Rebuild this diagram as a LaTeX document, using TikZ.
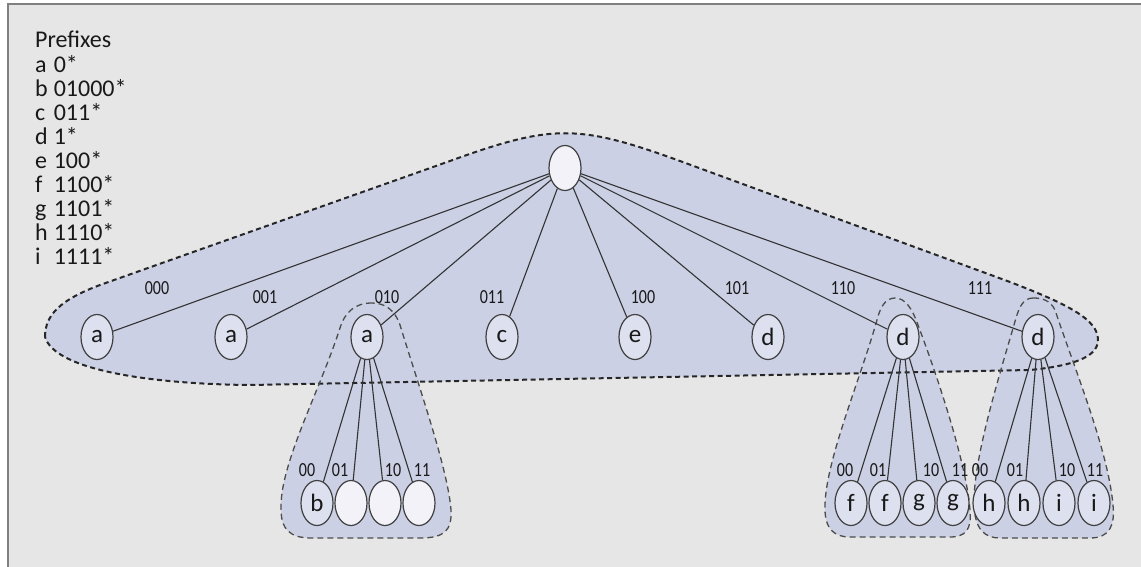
\documentclass[tikz,border=0pt]{standalone}
\usepackage{fontspec}
\setmainfont{Carlito}
\newfontfamily\labfont{Carlito}[FakeStretch=0.8]
\usetikzlibrary{shapes.geometric}
\definecolor{bg}{HTML}{E6E6E6}
\definecolor{blobfill}{HTML}{CBD0E4}
\definecolor{nodefill}{HTML}{DDE0EE}
\definecolor{emptyfill}{HTML}{F2F2F8}
\definecolor{framecol}{HTML}{808080}
\begin{document}
\begin{tikzpicture}[x=1pt,y=-1pt,
  every node/.style={inner sep=0pt,text=black!90},
  tnode/.style={ellipse,draw=black!75,line width=1.2pt,fill=nodefill,minimum width=32pt,minimum height=45pt,font=\fontsize{25}{27}\selectfont},
  enode/.style={tnode,fill=emptyfill},
  lab/.style={font=\labfont\fontsize{20}{22}\selectfont},
  link/.style={draw=black!80,line width=1.1pt},
  bigblob/.style={draw=black!85,line width=2pt,dash pattern=on 5pt off 3.5pt},
  smallblob/.style={draw=black!70,line width=1.3pt,dash pattern=on 6pt off 4pt}]
\useasboundingbox (0,0) rectangle (1141,567);
\clip (0,0) rectangle (1141,567);
\fill[white] (0,0) rectangle (1141,567);
\fill[bg] (8,4) rectangle (1141,567);
\draw[framecol,line width=1.5pt] (8,567) -- (8,4) -- (1141,4);

% blob shapes
\path[save path=\pbig] (45,337) .. controls (45,315) and (60,300) .. (100,285)
  -- (450,161) .. controls (552,124) and (578,124) .. (680,161)
  -- (1010,282) .. controls (1070,305) and (1098,320) .. (1098,340)
  .. controls (1098,358) and (1070,366) .. (1030,370)
  -- (250,385) .. controls (150,384) and (55,370) .. (45,337) -- cycle;
\path[save path=\pa] (372,303) .. controls (355,303) and (345,312) .. (340,328)
  .. controls (320,390) and (282,460) .. (281,505)
  .. controls (280,530) and (290,538) .. (312,538) -- (420,538)
  .. controls (445,538) and (452,530) .. (451,510)
  .. controls (448,470) and (420,390) .. (400,325)
  .. controls (395,310) and (385,303) .. (372,303) -- cycle;
\path[save path=\pd] (895,298) .. controls (885,298) and (880,308) .. (877,320)
  .. controls (860,380) and (826,460) .. (825,505)
  .. controls (824,530) and (835,537) .. (850,537) -- (950,537)
  .. controls (965,537) and (972,530) .. (970,510)
  .. controls (966,460) and (935,370) .. (918,325)
  .. controls (912,308) and (905,298) .. (895,298) -- cycle;
\path[save path=\ph] (1033,298) .. controls (1023,298) and (1019,308) .. (1016,318)
  .. controls (998,380) and (973,460) .. (974,505)
  .. controls (975,530) and (985,538) .. (1000,538) -- (1090,538)
  .. controls (1110,538) and (1115,525) .. (1113,505)
  .. controls (1108,450) and (1075,370) .. (1055,310)
  .. controls (1050,300) and (1042,298) .. (1033,298) -- cycle;
\fill[blobfill,use path=\pbig];
\fill[blobfill,use path=\pa];
\fill[blobfill,use path=\pd];
\fill[blobfill,use path=\ph];
\path[bigblob,use path=\pbig];
\path[smallblob,use path=\pa];
\path[smallblob,use path=\pd];
\path[smallblob,use path=\ph];

% legend
\node[anchor=base west,font=\fontsize{24}{23.5}\selectfont] (legend) at (35,48)
  {\begin{tabular}[t]{@{}l@{\hspace{6pt}}l@{}}
   \multicolumn{2}{@{}l@{}}{Prefixes}\\
   a & 0*\\ b & 01000*\\ c & 011*\\ d & 1*\\ e & 100*\\
   f & 1100*\\ g & 1101*\\ h & 1110*\\ i & 1111*
   \end{tabular}};

% nodes
\node[enode] (root) at (565,168) {};
\node[tnode] (a1) at (97,337) {a};
\node[tnode] (a2) at (231,337) {a};
\node[tnode] (a3) at (367,337) {a};
\node[tnode] (c) at (502,337) {c};
\node[tnode] (e) at (635,337) {e};
\node[tnode] (d1) at (768,337) {d};
\node[tnode] (d2) at (903,337) {d};
\node[tnode] (d3) at (1038,337) {d};

\node[tnode] (b) at (317,503) {b};
\node[enode] (n1) at (351,503) {};
\node[enode] (n2) at (385,503) {};
\node[enode] (n3) at (419,503) {};

\node[tnode] (f1) at (851,503) {f};
\node[tnode] (f2) at (885,503) {f};
\node[tnode] (g1) at (919,503) {g};
\node[tnode] (g2) at (953,503) {g};
\node[tnode] (h1) at (989,503) {h};
\node[tnode] (h2) at (1024,503) {h};
\node[tnode] (i1) at (1059,503) {i};
\node[tnode] (i2) at (1094,503) {i};

% connectors
\foreach \t in {a1,a2,a3,c,e,d1,d2,d3} \draw[link] (root) -- (\t);
\foreach \t in {b,n1,n2,n3} \draw[link] (a3) -- (\t);
\foreach \t in {f1,f2,g1,g2} \draw[link] (d2) -- (\t);
\foreach \t in {h1,h2,i1,i2} \draw[link] (d3) -- (\t);

% labels
\node[lab] (l000) at (157,288) {000};
\node[lab] (l001) at (265,297) {001};
\node[lab] (l010) at (387,297) {010};
\node[lab] (l011) at (492,297) {011};
\node[lab] (l100) at (643,297) {100};
\node[lab] (l101) at (737,288) {101};
\node[lab] (l110) at (843,288) {110};
\node[lab] (l111) at (980,288) {111};

\node[lab] (la00) at (307,470) {00};
\node[lab] (la01) at (340,470) {01};
\node[lab] (la10) at (393,470) {10};
\node[lab] (la11) at (422,470) {11};
\node[lab] (ld00) at (845,470) {00};
\node[lab] (ld01) at (878,470) {01};
\node[lab] (ld10) at (931,470) {10};
\node[lab] (ld11) at (960,470) {11};
\node[lab] (lh00) at (980,470) {00};
\node[lab] (lh01) at (1015,470) {01};
\node[lab] (lh10) at (1067,470) {10};
\node[lab] (lh11) at (1095,470) {11};
\end{tikzpicture}
\end{document}
